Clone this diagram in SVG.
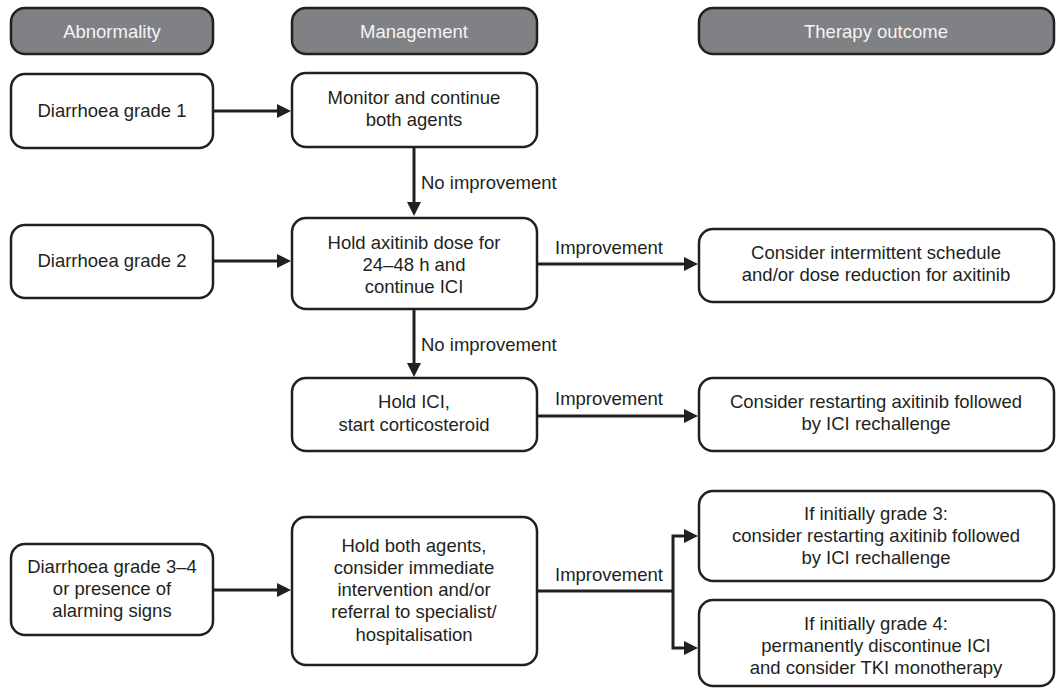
<svg xmlns="http://www.w3.org/2000/svg" width="1056" height="688" viewBox="0 0 1056 688">
<defs>
<style>
.hdr rect{fill:#808184;stroke:#231f20;stroke-width:2.5}
.hdr text{fill:#f4f4f4}
.box rect{fill:#ffffff;stroke:#231f20;stroke-width:2.5}
text{font-family:"Liberation Sans",Arial,Helvetica,sans-serif;font-size:18.5px;fill:#231f20;text-anchor:middle}
.lbl{text-anchor:start}
.conn path{fill:none;stroke:#231f20;stroke-width:3}
</style>
<marker id="ah" viewBox="0 0 14 14" refX="4" refY="7" markerWidth="14" markerHeight="14" markerUnits="userSpaceOnUse" orient="auto">
<path d="M0,0 L14,7 L0,14 z" fill="#231f20"/>
</marker>
</defs>
<rect x="0" y="0" width="1056" height="688" fill="#ffffff"/>

<g id="hdr-abnormality" class="hdr"><rect x="11" y="8" width="202" height="46" rx="14"/><text x="112" y="38">Abnormality</text></g>
<g id="hdr-management" class="hdr"><rect x="292" y="8" width="245" height="46" rx="14"/><text x="414" y="38">Management</text></g>
<g id="hdr-outcome" class="hdr"><rect x="699" y="8" width="355" height="46" rx="14"/><text x="876" y="38">Therapy outcome</text></g>

<g id="grade1" class="box"><rect x="11" y="74" width="202" height="74" rx="14"/><text x="112" y="117">Diarrhoea grade 1</text></g>
<g id="monitor" class="box"><rect x="292" y="73" width="245" height="74" rx="14"/><text x="414" y="104">Monitor and continue</text><text x="414" y="126">both agents</text></g>

<g id="grade2" class="box"><rect x="11" y="225" width="202" height="73" rx="14"/><text x="112" y="267">Diarrhoea grade 2</text></g>
<g id="holdaxi" class="box"><rect x="292" y="218" width="245" height="91" rx="14"/><text x="414" y="249">Hold axitinib dose for</text><text x="414" y="271">24–48 h and</text><text x="414" y="293">continue ICI</text></g>
<g id="intermittent" class="box"><rect x="699" y="229" width="355" height="73" rx="14"/><text x="876" y="259">Consider intermittent schedule</text><text x="876" y="281">and/or dose reduction for axitinib</text></g>

<g id="holdici" class="box"><rect x="292" y="378" width="245" height="73" rx="14"/><text x="414" y="408">Hold ICI,</text><text x="414" y="431">start corticosteroid</text></g>
<g id="restart" class="box"><rect x="699" y="378" width="355" height="73" rx="14"/><text x="876" y="408">Consider restarting axitinib followed</text><text x="876" y="430">by ICI rechallenge</text></g>

<g id="grade34" class="box"><rect x="11" y="544" width="202" height="91" rx="14"/><text x="112" y="573">Diarrhoea grade 3–4</text><text x="112" y="595">or presence of</text><text x="112" y="617">alarming signs</text></g>
<g id="holdboth" class="box"><rect x="292" y="517" width="245" height="148" rx="14"/><text x="414" y="552">Hold both agents,</text><text x="414" y="574">consider immediate</text><text x="414" y="596">intervention and/or</text><text x="414" y="618">referral to specialist/</text><text x="414" y="641">hospitalisation</text></g>
<g id="grade3out" class="box"><rect x="699" y="491" width="355" height="90" rx="14"/><text x="876" y="520">If initially grade 3:</text><text x="876" y="542">consider restarting axitinib followed</text><text x="876" y="564">by ICI rechallenge</text></g>
<g id="grade4out" class="box"><rect x="699" y="600" width="355" height="86" rx="14"/><text x="876" y="630">If initially grade 4:</text><text x="876" y="652">permanently discontinue ICI</text><text x="876" y="674">and consider TKI monotherapy</text></g>

<g id="connectors" class="conn">
<path d="M213,111 H281" marker-end="url(#ah)"/>
<path d="M414,147 V206" marker-end="url(#ah)"/>
<path d="M213,261 H281" marker-end="url(#ah)"/>
<path d="M537,264 H688" marker-end="url(#ah)"/>
<path d="M414,309 V367" marker-end="url(#ah)"/>
<path d="M537,416 H688" marker-end="url(#ah)"/>
<path d="M213,590 H281" marker-end="url(#ah)"/>
<path d="M537,591 H673"/>
<path d="M673,591 V536 H688" marker-end="url(#ah)"/>
<path d="M673,591 V648 H688" marker-end="url(#ah)"/>
<text class="lbl" x="421" y="189">No improvement</text>
<text class="lbl" x="421" y="351">No improvement</text>
<text class="lbl" x="555" y="254">Improvement</text>
<text class="lbl" x="555" y="405">Improvement</text>
<text class="lbl" x="555" y="581">Improvement</text>
</g>
</svg>
